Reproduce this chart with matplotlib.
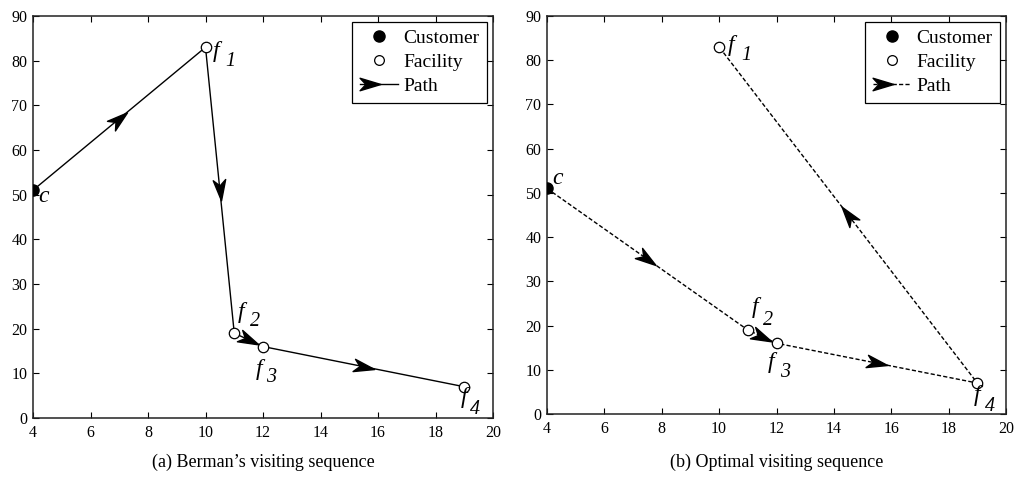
import numpy as np
import matplotlib
matplotlib.use("Agg")
import matplotlib.pyplot as plt
from matplotlib.path import Path
from matplotlib.markers import MarkerStyle
from matplotlib.transforms import Affine2D
from matplotlib.lines import Line2D
from matplotlib.legend_handler import HandlerBase

# ---------------- data ----------------
customer_x = 4
customer_y = 51
facility_x = [10, 11, 12, 19]
facility_y = [83, 19, 16, 7]
facility_ids = ["1", "2", "3", "4"]
# visiting sequences: 0 = customer, 1..4 = facilities f1..f4
berman_sequence = [0, 1, 2, 3, 4]
optimal_sequence = [0, 2, 3, 4, 1]
captions = ["(a) Berman\u2019s visiting sequence", "(b) Optimal visiting sequence"]
legend_labels = ["Customer", "Facility", "Path"]
x_ticks = [4, 6, 8, 10, 12, 14, 16, 18, 20]
y_ticks = [0, 10, 20, 30, 40, 50, 60, 70, 80, 90]

# ---------------- style ----------------
SERIF = ["Liberation Serif", "DejaVu Serif"]
plt.rcParams["font.family"] = SERIF

# label offsets in pixels: (letter dx, dy), (digit dx, dy)
left_offsets = {
    0: ((5, -6), None),
    1: ((7, -4), (20, -14)),
    2: ((3, 21), (16, 12)),
    3: ((-7, -23), (3, -31)),
    4: ((-4, -11), (6, -23)),
}
right_offsets = {
    0: ((5, 10), None),
    1: ((9, 1), (22, -9)),
    2: ((4, 22), (15, 9)),
    3: ((-9, -19), (4, -29)),
    4: ((-4, -12), (8, -23)),
}

stealth_path = Path(
    [(0.5, 0.0), (-0.5, 0.3), (-0.22, 0.0), (-0.5, -0.3), (0.5, 0.0)],
    [Path.MOVETO, Path.LINETO, Path.LINETO, Path.LINETO, Path.CLOSEPOLY],
)
HEAD_MS = 15
LW = 1.0
DASHES = (3, 1.6)


def stealth(theta):
    return MarkerStyle(stealth_path, transform=Affine2D().rotate(theta))


class HandlerArrowLine(HandlerBase):
    def __init__(self, ls, **kw):
        super().__init__(**kw)
        self.ls = ls

    def create_artists(self, legend, orig_handle, xdescent, ydescent,
                       width, height, fontsize, trans):
        y = height / 2 - ydescent
        x0 = -xdescent
        line = Line2D([x0, x0 + width], [y, y], color="k", lw=LW)
        if self.ls == "dashed":
            line.set_dashes(DASHES)
        head = Line2D([x0 + HEAD_MS / 2], [y], marker=stealth(0),
                      markersize=HEAD_MS, color="k", ls="none")
        line.set_transform(trans)
        head.set_transform(trans)
        return [line, head]


fig = plt.figure(figsize=(10.14, 4.78), dpi=100)
W, H = 1014, 478
ax_boxes = [(33, 16, 493, 418), (547, 16, 1006, 414)]

all_x = [customer_x] + facility_x
all_y = [customer_y] + facility_y
node_names = ["c"] + ["f"] * 4

for k, (box, seq, offs, ls) in enumerate(zip(
        ax_boxes, [berman_sequence, optimal_sequence],
        [left_offsets, right_offsets], ["solid", "dashed"])):
    l, t, r, b = box
    ax = fig.add_axes([l / W, 1 - b / H, (r - l) / W, (b - t) / H])
    ax.set_xlim(4, 20)
    ax.set_ylim(0, 90)
    ax.set_xticks(x_ticks)
    ax.set_yticks(y_ticks)
    ax.tick_params(direction="in", top=True, right=True, length=4,
                   width=0.8, labelsize=11.5, pad=4)
    ax.tick_params(axis="x", pad=5)
    for s in ax.spines.values():
        s.set_linewidth(1.1)
        s.set_color("#222222")

    px = [all_x[i] for i in seq]
    py = [all_y[i] for i in seq]
    line, = ax.plot(px, py, color="k", lw=LW, zorder=2)
    if ls == "dashed":
        line.set_dashes(DASHES)

    # arrowheads at segment midpoints
    for i in range(len(seq) - 1):
        p0 = ax.transData.transform((px[i], py[i]))
        p1 = ax.transData.transform((px[i + 1], py[i + 1]))
        theta = np.arctan2(p1[1] - p0[1], p1[0] - p0[0])
        mid = ax.transData.inverted().transform((p0 + p1) / 2)
        ax.plot([mid[0]], [mid[1]], marker=stealth(theta), markersize=HEAD_MS,
                color="k", ls="none", zorder=3)

    ax.plot(facility_x, facility_y, "o", mfc="white", mec="k", mew=0.9,
            ms=7.5, ls="none", zorder=4)
    ax.plot([customer_x], [customer_y], "o", color="k", ms=8, zorder=5)

    # node labels
    for node in range(5):
        (lx, ly), dig = offs[node]
        ax.annotate(node_names[node], (all_x[node], all_y[node]),
                    xytext=(lx, ly), textcoords="offset pixels",
                    ha="left", va="center", fontsize=17, style="italic",
                    family=SERIF, zorder=6)
        if dig is not None:
            ax.annotate(facility_ids[node - 1], (all_x[node], all_y[node]),
                        xytext=dig, textcoords="offset pixels",
                        ha="left", va="center", fontsize=14.5, style="italic",
                        family=SERIF, zorder=6)

    h_c = Line2D([], [], marker="o", color="k", ms=8, ls="none")
    h_f = Line2D([], [], marker="o", mfc="white", mec="k", mew=0.9, ms=7,
                 ls="none")
    h_p = Line2D([], [], color="k")
    leg = ax.legend([h_c, h_f, h_p], legend_labels, loc="upper right",
                    fontsize=14, handler_map={h_p: HandlerArrowLine(ls)},
                    fancybox=False, edgecolor="k", framealpha=1,
                    borderaxespad=0.3, handlelength=2.0, handletextpad=0.25,
                    labelspacing=0.32, borderpad=0.4, handleheight=0.7)
    leg.get_frame().set_linewidth(0.9)
    leg.set_zorder(10)

    fig.text((l + r) / 2 / W, 1 - 462 / H, captions[k], ha="center",
             va="center", fontsize=13)

fig.savefig("out.png", dpi=100)
